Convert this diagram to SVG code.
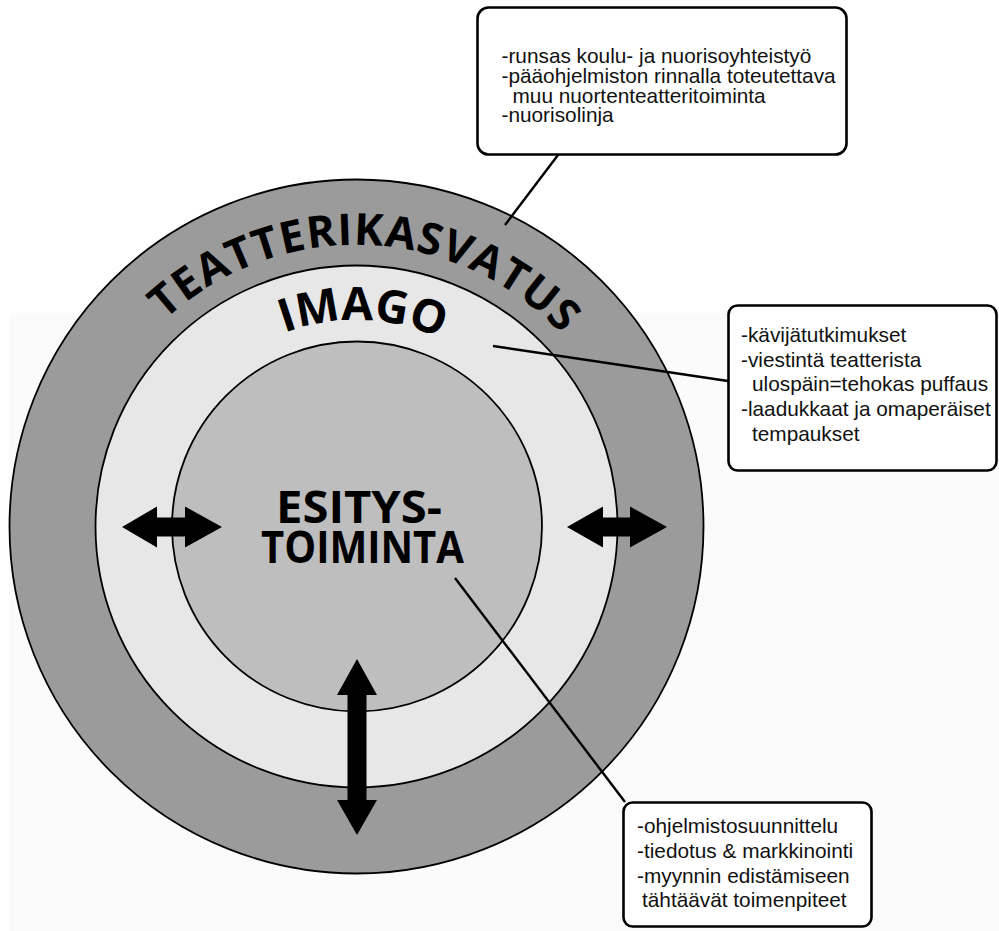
<svg xmlns="http://www.w3.org/2000/svg" width="999" height="931" viewBox="0 0 999 931">
  <style>
    .ring { stroke: #000; stroke-width: 1.8; }
    .big { font-family: "Open Sans", "DejaVu Sans", sans-serif; font-weight: 700; fill: #000; }
    .box { fill: #fff; stroke: #000; stroke-width: 2.6; }
    .txt { font-family: "Liberation Sans", Arial, sans-serif; font-size: 20.8px; fill: #111; }
    .conn { stroke: #000; stroke-width: 2.4; fill: none; }
    .arrow { fill: #000; }
  </style>
  <defs>
    <path id="arcOuter" d="M 112.6 385.5 A 281 281 0 0 1 599.4 385.5"/>
    <path id="arcImago" d="M 177.6 423 A 206 206 0 0 1 534.4 423"/>
  </defs>
  <rect x="0" y="0" width="999" height="931" fill="#fff"/>
  <rect x="9" y="313" width="990" height="618" fill="#fbfbfb"/>

  <g id="teatterikasvatus">
    <circle class="ring" cx="356.5" cy="526.5" r="347" fill="#9b9b9b"/>
    <text class="big" font-size="44" letter-spacing="1"><textPath href="#arcOuter" startOffset="51.8%" text-anchor="middle">TEATTERIKASVATUS</textPath></text>
  </g>

  <g id="imago">
    <circle class="ring" cx="356.5" cy="526.5" r="261" fill="#e7e7e7"/>
    <text class="big" font-size="46"><textPath href="#arcImago" startOffset="51.6%" text-anchor="middle">IMAGO</textPath></text>
  </g>

  <g id="esitystoiminta">
    <circle class="ring" cx="357" cy="526.5" r="185" fill="#bebebe"/>
    <text class="big" font-size="45" x="276" y="523" textLength="166" lengthAdjust="spacingAndGlyphs">ESITYS-</text>
    <text class="big" font-size="45" x="261" y="563" textLength="203" lengthAdjust="spacingAndGlyphs">TOIMINTA</text>
  </g>

  <g id="arrows">
    <polygon class="arrow" points="122,527 157,506.5 157,517.5 185,517.5 185,506.5 222,527 185,547.5 185,536.5 157,536.5 157,547.5"/>
    <polygon class="arrow" points="567,527 603,506.5 603,517.5 630,517.5 630,506.5 667,527 630,547.5 630,536.5 603,536.5 603,547.5"/>
    <polygon class="arrow" points="357,659 377,695 366.5,695 366.5,800 377,800 357,835 337,800 347.5,800 347.5,695 337,695"/>
  </g>

  <g id="connectors">
    <line class="conn" x1="558" y1="155" x2="505" y2="225"/>
    <line class="conn" x1="493" y1="346" x2="728" y2="381"/>
    <line class="conn" x1="455" y1="578" x2="625" y2="802"/>
  </g>

  <g id="box-teatterikasvatus">
    <rect class="box" x="477.5" y="7.5" width="369" height="147" rx="11"/>
    <text class="txt" x="501.5" y="63">-runsas koulu- ja nuorisoyhteistyö</text>
    <text class="txt" x="501.5" y="83">-pääohjelmiston rinnalla toteutettava</text>
    <text class="txt" x="512.5" y="102.5">muu nuortenteatteritoiminta</text>
    <text class="txt" x="501.5" y="122">-nuorisolinja</text>
  </g>

  <g id="box-imago">
    <rect class="box" x="728.5" y="305.5" width="268" height="165" rx="9"/>
    <text class="txt" x="741" y="342">-kävijätutkimukset</text>
    <text class="txt" x="741" y="367">-viestintä teatterista</text>
    <text class="txt" x="752" y="391">ulospäin=tehokas puffaus</text>
    <text class="txt" x="741" y="416">-laadukkaat ja omaperäiset</text>
    <text class="txt" x="752" y="441">tempaukset</text>
  </g>

  <g id="box-esitystoiminta">
    <rect class="box" x="623.5" y="802.5" width="248" height="124" rx="9"/>
    <text class="txt" x="637" y="833">-ohjelmistosuunnittelu</text>
    <text class="txt" x="637" y="858">-tiedotus &amp; markkinointi</text>
    <text class="txt" x="637" y="883">-myynnin edistämiseen</text>
    <text class="txt" x="642" y="907">tähtäävät toimenpiteet</text>
  </g>
</svg>
